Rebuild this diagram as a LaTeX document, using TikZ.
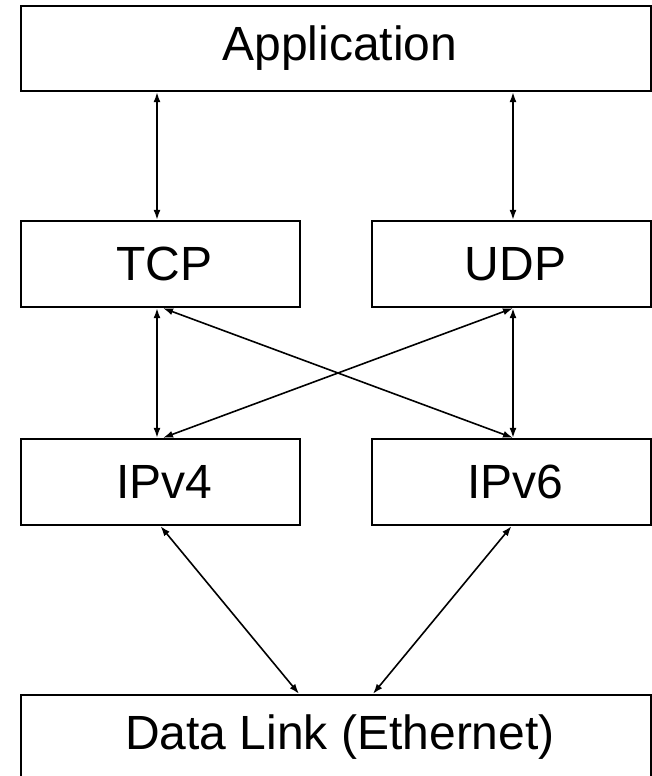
\documentclass[tikz,border=0pt]{standalone}
\usepackage{fontspec}
\setmainfont{Liberation Sans}
\usetikzlibrary{arrows.meta}
\begin{document}
\begin{tikzpicture}[x=1pt,y=-1pt,
  layer/.style={draw=black, line width=2.3pt, inner sep=0pt, align=center,
    font=\fontsize{48}{56}\selectfont},
  wide/.style={layer, minimum width=630pt, minimum height=85pt},
  half/.style={layer, minimum width=279pt, minimum height=86pt},
  arr/.style={line width=1.6pt, {Latex[length=10pt,width=7pt]}-{Latex[length=10pt,width=7pt]}}]
\useasboundingbox (0,0) rectangle (652,776);
\node[wide] (app) at (336,48.5) {\hspace*{8pt}Application};
\node[half] (tcp) at (160.5,264) {\hspace*{8pt}TCP};
\node[half] (udp) at (511.5,264) {\hspace*{8pt}UDP};
\node[half] (ipv4) at (160.5,482) {\hspace*{8pt}IPv4};
\node[half] (ipv6) at (511.5,482) {\hspace*{8pt}IPv6};
\node[wide] (dl) at (336,737.5) {\hspace*{8pt}Data Link (Ethernet)};
\draw[arr] ([xshift=-3.5pt]tcp.north |- app.south) -- ([xshift=-3.5pt]tcp.north);
\draw[arr] ([xshift=1.5pt]udp.north |- app.south) -- ([xshift=1.5pt]udp.north);
\draw[arr] ([xshift=-3.5pt]tcp.south) -- ([xshift=-3.5pt]ipv4.north);
\draw[arr] ([xshift=1.5pt]udp.south) -- ([xshift=1.5pt]ipv6.north);
\draw[arr] ([xshift=2.5pt]tcp.south) -- ([xshift=1.5pt]ipv6.north);
\draw[arr] ([xshift=1.5pt]udp.south) -- ([xshift=2.5pt]ipv4.north);
\draw[arr] (ipv4.south) -- ([xshift=-37pt]dl.north);
\draw[arr] (ipv6.south) -- ([xshift=37pt]dl.north);
\end{tikzpicture}
\end{document}
